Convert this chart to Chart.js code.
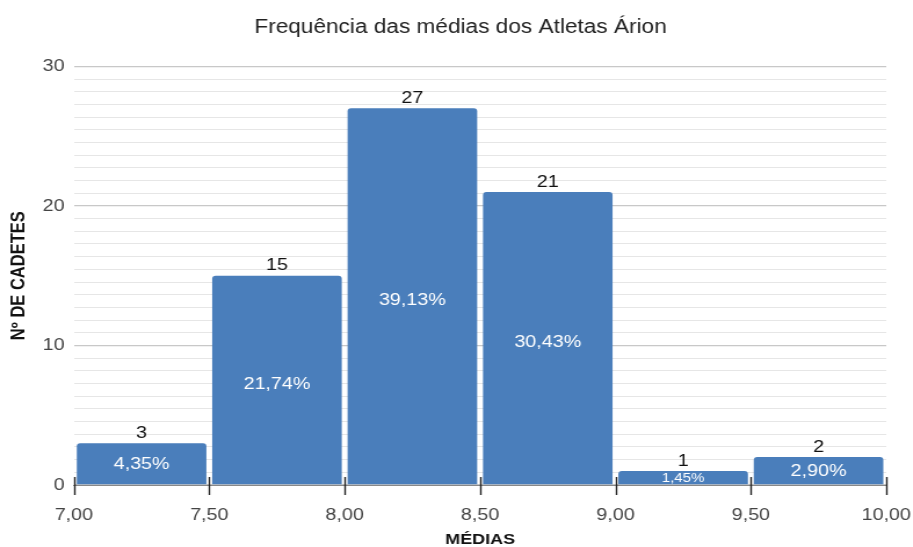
<!DOCTYPE html>
<html>
<head>
<meta charset="utf-8">
<script src="https://cdn.jsdelivr.net/npm/chart.js@4.4.1/dist/chart.umd.min.js"></script>
<style>
  html, body { margin: 0; padding: 0; background: #fff; overflow: hidden; }
  #wrap { width: 913px; height: 547px; }
  /* the reference is drawn slightly stretched sideways */
  #myChart { transform: scaleX(1.16); transform-origin: 0 0; }
</style>
</head>
<body>
<div id="wrap"><canvas id="myChart" width="787" height="547"></canvas></div>
<script>
// bin centres (width 0.5) and counts
const binCenters = [7.25, 7.75, 8.25, 8.75, 9.25, 9.75];
const counts = [3, 15, 27, 21, 1, 2];
const percents = ['4,35%', '21,74%', '39,13%', '30,43%', '1,45%', '2,90%'];
const yMajor = [0, 10, 20, 30];
const yMinorPerMajor = 11;

const barColor = '#4a7ebb';
const FONT = '"Liberation Sans", Arial, sans-serif';

// labels on the bars: count above, percent inside
const barLabels = {
  id: 'barLabels',
  afterDatasetsDraw(chart) {
    const ctx = chart.ctx;
    const meta = chart.getDatasetMeta(0);
    ctx.save();
    ctx.textAlign = 'center';
    ctx.textBaseline = 'middle';
    meta.data.forEach((bar, i) => {
      ctx.fillStyle = '#111';
      ctx.font = '17px ' + FONT;
      ctx.fillText(String(counts[i]), bar.x, bar.y - 10);
      const h = bar.base - bar.y;
      ctx.fillStyle = '#fff';
      ctx.font = (h < 20 ? '13px ' : '17px ') + FONT;
      ctx.fillText(percents[i], bar.x, bar.y + h / 2 + (h > 100 ? 4 : 1));
    });
    ctx.restore();
  }
};

// small tick marks crossing the x axis line
const xTicks = {
  id: 'xTicks',
  afterDraw(chart) {
    const ctx = chart.ctx;
    const xs = chart.scales.x;
    const y0 = chart.chartArea.bottom;
    ctx.save();
    ctx.strokeStyle = '#222';
    ctx.lineWidth = 1.4;
    xs.ticks.forEach(t => {
      const px = Math.round(xs.getPixelForValue(t.value)) + 0.5;
      ctx.beginPath();
      ctx.moveTo(px, y0 - 8);
      ctx.lineTo(px, y0 + 10);
      ctx.stroke();
    });
    ctx.restore();
  }
};

const data = {
  datasets: [{
    data: binCenters.map((x, i) => ({ x: x, y: counts[i] })),
    backgroundColor: barColor,
    borderRadius: { topLeft: 3, topRight: 3 },
    borderSkipped: 'bottom',
    barPercentage: 0.957,
    categoryPercentage: 1.0
  }]
};

const config = {
  type: 'bar',
  data: data,
  options: {
    responsive: false,
    animation: false,
    layout: { padding: { left: 7, right: 0, top: 4, bottom: -2 } },
    plugins: {
      legend: { display: false },
      tooltip: { enabled: false },
      title: {
        display: true,
        text: 'Frequência das médias dos Atletas Árion',
        color: '#222',
        font: { family: FONT, size: 19.5, weight: 'normal' },
        padding: { top: 12, bottom: 27 }
      }
    },
    scales: {
      x: {
        type: 'linear',
        min: 7,
        max: 10,
        offset: false,
        afterFit(scale) {
          scale.paddingRight = 23;
        },
        ticks: {
          stepSize: 0.5,
          color: '#444',
          font: { family: FONT, size: 17 },
          padding: 12,
          callback: v => v.toFixed(2).replace('.', ',')
        },
        grid: { display: false },
        border: { display: true, color: '#888', width: 1 },
        title: {
          display: true,
          text: 'MÉDIAS',
          color: '#111',
          font: { family: FONT, size: 15.5, weight: 'bold' },
          padding: { top: -7, bottom: 0 }
        }
      },
      y: {
        min: 0,
        max: 30,
        afterBuildTicks(scale) {
          const ticks = [];
          for (let m = 0; m < yMajor.length - 1; m++) {
            for (let k = 0; k < yMinorPerMajor; k++) {
              ticks.push({ value: yMajor[m] + k * (yMajor[m + 1] - yMajor[m]) / yMinorPerMajor, major: k === 0 });
            }
          }
          ticks.push({ value: yMajor[yMajor.length - 1], major: true });
          scale.ticks = ticks;
        },
        ticks: {
          autoSkip: false,
          color: '#444',
          font: { family: FONT, size: 17 },
          padding: 8,
          callback: (v, i) => (i % yMinorPerMajor === 0 ? String(Math.round(v)) : '')
        },
        grid: {
          drawTicks: false,
          color: ctx => (ctx.index % yMinorPerMajor === 0 ? '#c8c8c8' : '#e6e6e6'),
          lineWidth: ctx => (ctx.index % yMinorPerMajor === 0 ? 1.3 : 1)
        },
        border: { display: false },
        title: {
          display: true,
          text: 'Nº DE CADETES',
          color: '#111',
          font: { family: FONT, size: 16.5, weight: 'bold' },
          padding: { top: 0, bottom: 2 }
        }
      }
    }
  },
  plugins: [barLabels, xTicks]
};

new Chart(document.getElementById('myChart'), config);
</script>
</body>
</html>
